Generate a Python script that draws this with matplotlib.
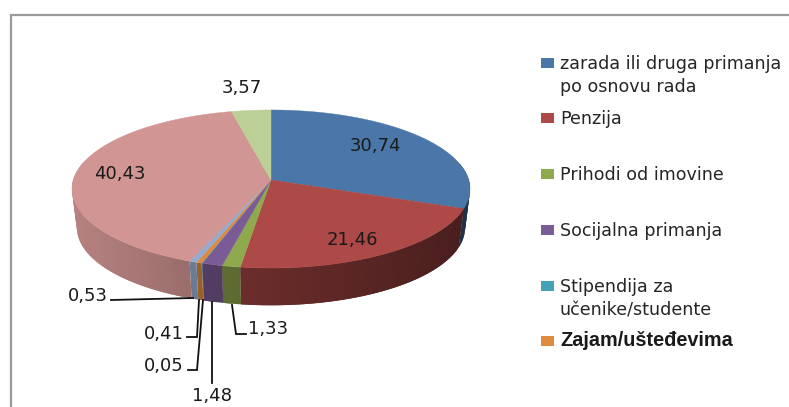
import matplotlib
matplotlib.use('Agg')
import matplotlib.pyplot as plt
from matplotlib.colors import to_rgb
from matplotlib.patches import Polygon, Rectangle
import numpy as np

# slices, clockwise from 12 o'clock
values = [30.74, 21.46, 1.33, 1.48, 0.05, 0.41, 0.53, 40.43, 3.57]
value_labels = ['30,74', '21,46', '1,33', '1,48', '0,05', '0,41', '0,53', '40,43', '3,57']
slice_colors = ['#4a76a8', '#ad4946', '#8fa94f', '#7b5b96', '#45a0b8',
                '#de8a3f', '#93abd0', '#d19593', '#bccf97']

legend_labels = ['zarada ili druga primanja\npo osnovu rada', 'Penzija', 'Prihodi od imovine',
                 'Socijalna primanja', 'Stipendija za\nučenike/studente', 'Zajam/ušteđevima']
legend_colors = ['#4a76a8', '#ad4946', '#8fa94f', '#7b5b96', '#45a0b8', '#de8a3f']
legend_y = [63, 118, 174, 230, 286, 341]

# label anchors in pixels
label_pos = [(375, 146), (352, 240), (268, 329), (212, 396), (164, 366),
             (164, 334), (88, 296), (120, 174), (242, 88)]

# leader lines
leaders = [
    [(111, 300), (193, 298)],
    [(187, 337), (197, 337), (199, 300)],
    [(188, 370), (197, 370), (203, 300)],
    [(212, 383), (212, 302)],
    [(232, 305), (236, 334), (246, 334)],
]

# pie projection
apex_x, apex_y = 271, 180
a, b, c = 197.7, 78, 0.114
depth = 39


def project(t, bottom=False):
    u, v = np.sin(t), np.cos(t)
    w = 1 + c * v
    x = a * u / w
    y = -b * v / w
    if bottom:
        return apex_x + 0.975 * x, apex_y + 0.98 * y + depth
    return apex_x + x, apex_y + y


def side_shade(x):
    return np.interp(x, [73, 190, 205, 241, 465], [0.87, 0.73, 0.67, 0.62, 0.42])


fig = plt.figure(figsize=(7.89, 4.07), dpi=100)
ax = fig.add_axes([0, 0, 1, 1])
ax.set_xlim(0, 789)
ax.set_ylim(407, 0)
ax.axis('off')

edges = np.cumsum([0] + values) / sum(values) * 2 * np.pi

# side wall, strips overlap so no seams show
for i in range(len(values)):
    lo, hi = edges[i], edges[i + 1]
    n = max(1, int((hi - lo) / 0.03))
    ts = np.linspace(lo, hi, n + 1)
    col = np.array(to_rgb(slice_colors[i]))
    for k in range(n):
        t0 = ts[k]
        if np.cos(t0) > 0.2 and np.cos(ts[k + 1]) > 0.2:
            continue
        arc = np.linspace(t0, ts[min(k + 2, n)], 12)
        xt, yt = project(arc)
        xb, yb = project(arc, True)
        pts = list(zip(xt, yt)) + list(zip(xb[::-1], yb[::-1]))
        shade = col * side_shade((xt[0] + xt[-1]) / 2)
        ax.add_patch(Polygon(pts, closed=True, facecolor=shade, edgecolor='none'))

# top face
for i in range(len(values)):
    ts = np.linspace(edges[i], edges[i + 1], 200)
    xs, ys = project(ts)
    pts = [(apex_x, apex_y)] + list(zip(xs, ys))
    ax.add_patch(Polygon(pts, closed=True, facecolor=slice_colors[i],
                         edgecolor=slice_colors[i], lw=0.3))

for line in leaders:
    ax.plot([p[0] for p in line], [p[1] for p in line], color='#111111', lw=1.3,
            solid_joinstyle='miter')

for txt, pos in zip(value_labels, label_pos):
    ax.text(pos[0], pos[1], txt, fontsize=13, color='#1a1a1a', ha='center', va='center')

# legend
for i, lab in enumerate(legend_labels):
    ax.add_patch(Rectangle((541, legend_y[i] - 5), 13, 10, facecolor=legend_colors[i], edgecolor='none'))
    if i == 5:
        ax.text(560, legend_y[i], lab, fontsize=14.3, family='Liberation Sans', weight='bold',
                color='#1a1a1a', va='center')
    else:
        ax.text(560, legend_y[i] - 8, lab, fontsize=12.6, color='#262626', va='top', linespacing=1.375)

# frame of the pasted chart
ax.plot([11, 11, 789], [407, 15, 15], color='#9a9a9a', lw=1.6, solid_joinstyle='miter')

fig.savefig('out.png', dpi=100)
